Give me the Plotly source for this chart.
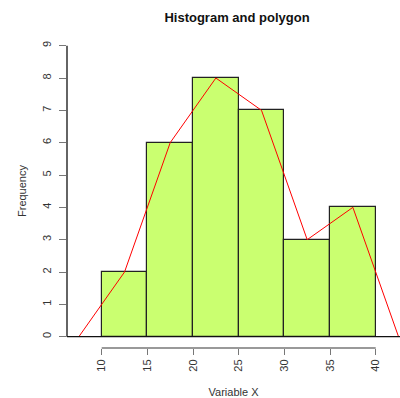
import plotly.graph_objects as go

bin_edges = [10, 15, 20, 25, 30, 35, 40]
counts = [2, 6, 8, 7, 3, 4]
poly_x = [7.5, 12.5, 17.5, 22.5, 27.5, 32.5, 37.5, 42.5]
poly_y = [0, 2, 6, 8, 7, 3, 4, 0]
x_ticks = [10, 15, 20, 25, 30, 35, 40]
y_ticks = list(range(0, 10))

W, H = 400, 398
# pixel geometry
x10_px, x40_px = 101.7, 375.7
y0_px, y9_px = 336.7, 45.7
left_px, right_px = 67, 400
top_px, bot_px = 34, 348
sx = (x40_px - x10_px) / 30.0
sy = (y0_px - y9_px) / 9.0
xmin = 10 - (x10_px - left_px) / sx
xmax = 10 + (right_px - x10_px) / sx
ymin = -(bot_px - y0_px) / sy
ymax = (y0_px - top_px) / sy

mids = [(a + b) / 2 for a, b in zip(bin_edges[:-1], bin_edges[1:])]
widths = [b - a for a, b in zip(bin_edges[:-1], bin_edges[1:])]

fig = go.Figure()
fig.add_trace(go.Bar(
    x=mids, y=counts, width=widths,
    marker=dict(color="#CAFF70", line=dict(color="#222222", width=1.2)),
    hoverinfo="skip",
))
fig.add_trace(go.Scatter(
    x=poly_x, y=poly_y, mode="lines",
    line=dict(color="#FF0000", width=1), cliponaxis=False,
))

# y=0 baseline across the plot region
fig.add_shape(type="line", xref="paper", yref="y", x0=0, x1=1, y0=0, y1=0,
              line=dict(color="#111111", width=1.3))
# y axis line 0..9
fig.add_shape(type="line", xref="paper", yref="y", x0=0, x1=0, y0=0, y1=9,
              line=dict(color="#111111", width=1.3))
# x axis line 10..40
fig.add_shape(type="line", xref="x", yref="paper", x0=10, x1=40, y0=0, y1=0,
              line=dict(color="#777777", width=1.3))

fig.update_layout(
    width=W, height=H,
    margin=dict(l=left_px, r=W - right_px, t=top_px, b=H - bot_px),
    plot_bgcolor="white", paper_bgcolor="white",
    showlegend=False,
    bargap=0,
    font=dict(family="Liberation Sans, Arial, sans-serif", color="#222222", size=11),
    title=dict(text="<b>Histogram and polygon</b>", x=(237 / W), xanchor="center",
               y=1 - 17 / H, yanchor="middle", font=dict(size=13, color="#111111")),
    xaxis=dict(range=[xmin, xmax], tickvals=x_ticks, ticktext=[str(t) for t in x_ticks],
               ticks="outside", ticklen=6, tickwidth=1.3, tickcolor="#777777",
               tickangle=-90, showgrid=False, zeroline=False, showline=False,
               tickfont=dict(size=11, color="#333333"),
               title=dict(text="Variable X", standoff=19, font=dict(size=11, color="#333333"))),
    yaxis=dict(range=[ymin, ymax], tickvals=y_ticks, ticktext=[str(t) for t in y_ticks],
               ticks="outside", ticklen=7, tickwidth=1.3, tickcolor="#777777",
               tickangle=-90, showgrid=False, zeroline=False, showline=False,
               ticklabelstandoff=4,
               tickfont=dict(size=11, color="#333333"),
               title=dict(text="Frequency", standoff=11, font=dict(size=11, color="#333333"))),
)

fig.write_html("out.html")
